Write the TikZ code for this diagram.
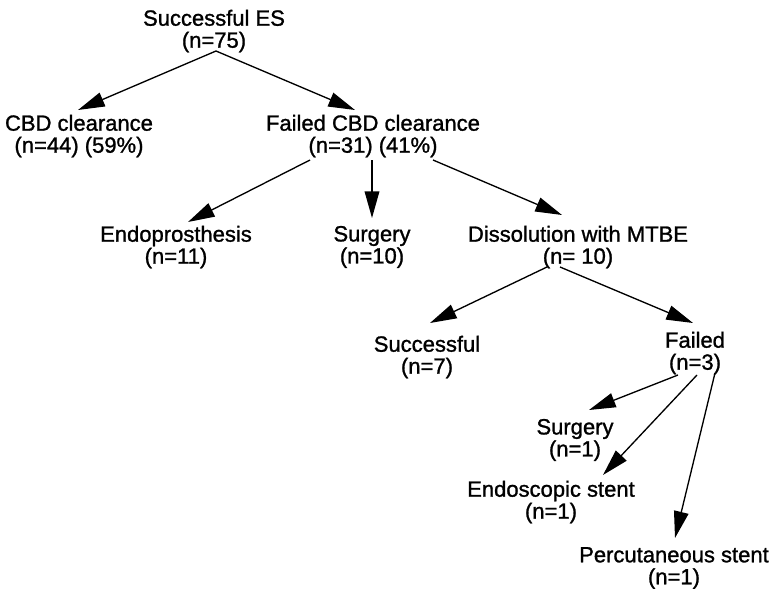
\documentclass[tikz,border=0pt]{standalone}
\usepackage{fontspec}
\setmainfont{Liberation Sans}
\newfontfamily\thickfont{Liberation Sans}[RawFeature={embolden=1.2}]
\usetikzlibrary{arrows.meta,calc}
\begin{document}
\begin{tikzpicture}[x=0.75pt,y=-0.75pt,
  lbl/.style={align=center,inner sep=0pt,font=\thickfont\fontsize{16.5}{16.5}\selectfont},
  arr/.style={line width=1pt,-{Triangle[length=20pt,width=11pt]}}]
\useasboundingbox (0,0) rectangle (772,589);
\node[lbl] (top) at (214,31) {Successful ES\\(n=75)};
\node[lbl] (cbd) at (79,136) {CBD clearance\\(n=44) (59\%)};
\node[lbl] (failed) at (373,136) {Failed CBD clearance\\(n=31) (41\%)};
\node[lbl] (endo) at (176,247) {Endoprosthesis\\(n=11)};
\node[lbl] (surg) at (372,247) {Surgery\\(n=10)};
\node[lbl] (diss) at (578,247) {Dissolution with MTBE\\(n= 10)};
\node[lbl] (succ) at (427,357) {Successful\\(n=7)};
\node[lbl] (fail2) at (695,353) {Failed\\(n=3)};
\node[lbl] (surg1) at (575,440) {Surgery\\(n=1)};
\node[lbl] (endos) at (551,502) {Endoscopic stent\\(n=1)};
\node[lbl] (perc) at (674,568) {Percutaneous stent\\(n=1)};
\draw[arr] ($(top)+(2,20)$) -- ($(cbd)+(-1,-26)$);
\draw[arr] ($(top)+(2,20)$) -- ($(failed)+(-18,-26)$);
\draw[arr] ($(failed)+(-63,24)$) -- ($(endo)+(12,-25)$);
\draw[arr] ($(failed)+(-1,24)$) -- ($(surg)+(0,-29)$);
\draw[arr] ($(failed)+(60,24)$) -- ($(diss)+(-16,-32)$);
\draw[arr] ($(diss)+(-31,20)$) -- ($(succ)+(3,-34)$);
\draw[arr] ($(diss)+(-18,20)$) -- ($(fail2)+(-2,-30)$);
\draw[arr] ($(fail2)+(-17,22)$) -- ($(surg1)+(14,-30)$);
\draw[arr] ($(fail2)+(2,22)$) -- ($(endos)+(52,-27)$);
\draw[arr] ($(fail2)+(20,20)$) -- ($(perc)+(1,-30)$);
\end{tikzpicture}
\end{document}
